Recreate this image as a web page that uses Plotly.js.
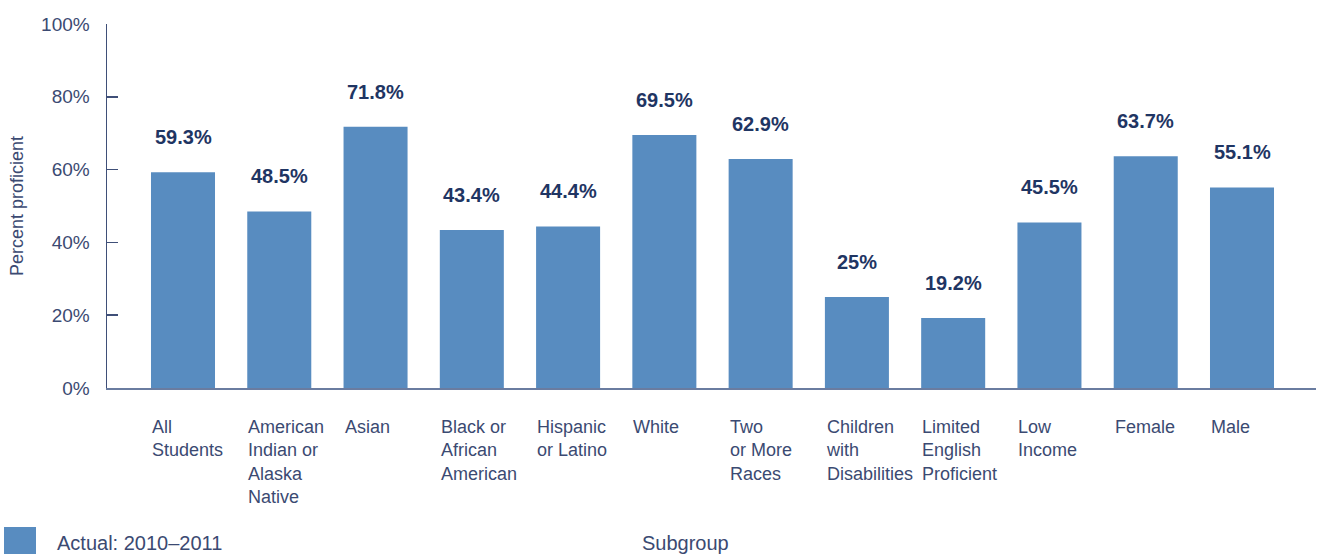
<!DOCTYPE html>
<html>
<head>
<meta charset="utf-8">
<script src="https://cdn.plot.ly/plotly-3.0.1.min.js"></script>
<style>html,body{margin:0;padding:0;background:#fff;}#chart{width:1317px;height:554px;}</style>
</head>
<body>
<div id="chart"></div>
<script>
const categories = ["All<br>Students", "American<br>Indian or<br>Alaska<br>Native", "Asian", "Black or<br>African<br>American", "Hispanic<br>or Latino", "White", "Two<br>or More<br>Races", "Children<br>with<br>Disabilities", "Limited<br>English<br>Proficient", "Low<br>Income", "Female", "Male"];
const values = [59.3, 48.5, 71.8, 43.4, 44.4, 69.5, 62.9, 25, 19.2, 45.5, 63.7, 55.1];
const seriesName = "Actual: 2010–2011";
const yTickVals = [0, 20, 40, 60, 80, 100];
const yTickText = ["0%", "20%", "40%", "60%", "80%", "100%"];
const xTitle = "Subgroup";
const yTitle = "Percent proficient";

const barColor = "#588cc0";
const textColor = "#3b4a72";
const valueColor = "#1f3563";
const FONT = "Liberation Sans, Arial, sans-serif";

const L = 107, R = 1316, T = 24, B = 388;
const px = p => (p - L) / (R - L);
const py = p => (B - p) / (B - T);

const idx = categories.map((c, i) => i);

const annotations = [];
idx.forEach(i => {
  annotations.push({
    x: i, y: values[i], xref: 'x', yref: 'y',
    text: '<b>' + values[i] + '%</b>', showarrow: false,
    yanchor: 'bottom', yshift: 22,
    font: {family: FONT, size: 20, color: valueColor}
  });
  annotations.push({
    x: i, y: 0, xref: 'x', yref: 'paper',
    text: categories[i], showarrow: false, align: 'left',
    xanchor: 'left', yanchor: 'top', xshift: -33, yshift: -27,
    font: {family: FONT, size: 18, color: textColor}
  });
});
annotations.push({
  x: px(55), y: py(543), xref: 'paper', yref: 'paper', xanchor: 'left', yanchor: 'middle',
  text: seriesName, showarrow: false, font: {family: FONT, size: 20, color: textColor}
});
annotations.push({
  x: px(685), y: py(543), xref: 'paper', yref: 'paper', xanchor: 'center', yanchor: 'middle',
  text: xTitle, showarrow: false, font: {family: FONT, size: 20, color: textColor}
});

const trace = {
  type: 'bar', x: idx, y: values, name: seriesName,
  marker: {color: barColor}, hoverinfo: 'none', showlegend: false
};

const layout = {
  width: 1317, height: 554,
  margin: {l: L, r: 1317 - R, t: T, b: 554 - B, pad: 0},
  paper_bgcolor: '#fff', plot_bgcolor: '#fff',
  bargap: 0.335,
  showlegend: false,
  xaxis: {
    range: [-(183 - L) / 96.27, 11 + (R - 1242) / 96.27],
    showticklabels: false, ticks: '', showgrid: false, zeroline: false,
    showline: true, linecolor: '#6a7ca0', linewidth: 2, fixedrange: true
  },
  yaxis: {
    range: [0, 100], tickvals: yTickVals, ticktext: yTickText,
    ticks: 'inside', ticklen: 11, tickwidth: 1.5, tickcolor: '#3f4f78',
    ticklabelstandoff: 12,
    showgrid: false, zeroline: false, showline: true, linecolor: '#3f4f78', linewidth: 1.5,
    tickfont: {family: FONT, size: 19, color: textColor},
    title: {text: yTitle, font: {family: FONT, size: 18, color: textColor}, standoff: 13},
    fixedrange: true
  },
  shapes: [{
    type: 'rect', xref: 'paper', yref: 'paper',
    x0: px(4), x1: px(36), y0: py(527), y1: py(560),
    fillcolor: barColor, line: {width: 0}
  }],
  annotations: annotations
};

Plotly.newPlot('chart', [trace], layout, {displayModeBar: false, staticPlot: true});
</script>
</body>
</html>
